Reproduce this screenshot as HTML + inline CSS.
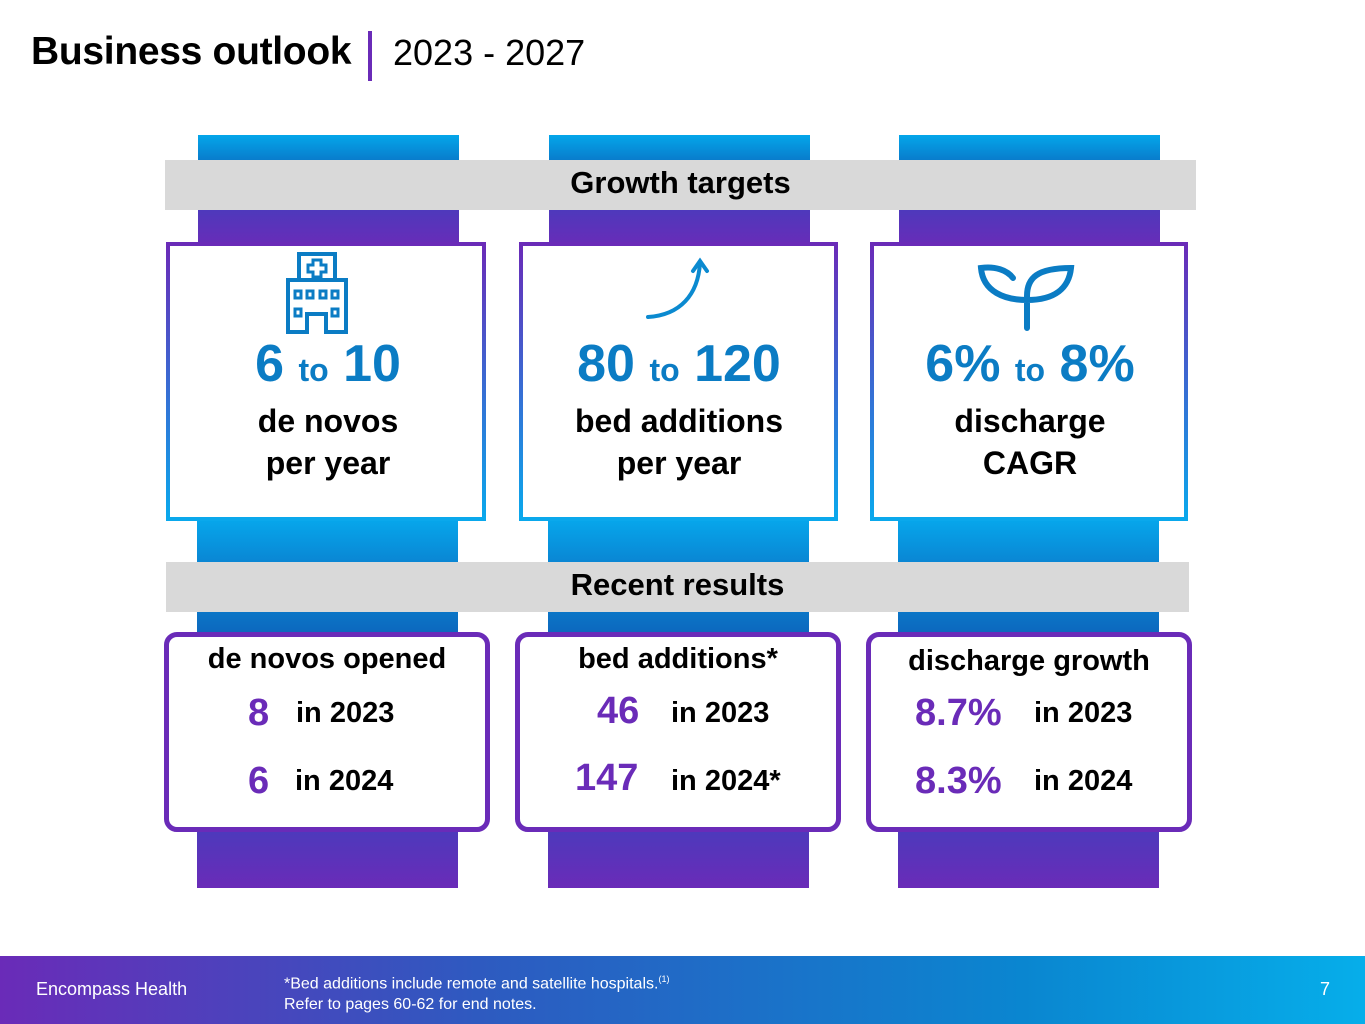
<!DOCTYPE html>
<html><head><meta charset="utf-8">
<style>
*{margin:0;padding:0;box-sizing:border-box}
body{width:1365px;height:1024px;position:relative;background:#fff;font-family:"Liberation Sans",sans-serif;overflow:hidden}
.a{position:absolute}
.t{position:absolute;white-space:nowrap;font-weight:bold;color:#000}
.c{text-align:center}
.blueTop{background:linear-gradient(#04a6ea,#0a74c6)}
.purp{background:linear-gradient(#4a3bbc,#6a2bb8)}
.blueMid{background:linear-gradient(#06aaee,#0a84d2)}
.blueLow{background:linear-gradient(#0b78c8,#0c64bc)}
.box{position:absolute;background:#fff;border:4px solid;border-image:linear-gradient(#6a2bb8,#0aa8ec) 1}
.rbox{position:absolute;background:#fff;border:5px solid #6a2bb8;border-radius:13px}
.num{color:#0b7cc4}
.pn{color:#6a2bb8}
</style></head><body>
<div class="t" style="left:31px;top:30px;font-size:39px;letter-spacing:-0.3px">Business outlook</div>
<div class="a" style="left:368px;top:31px;width:4px;height:50px;background:#6a2bb8"></div>
<div class="t" style="left:393px;top:32px;font-size:36px;font-weight:normal">2023 - 2027</div>

<div class="a blueTop" style="left:198px;top:135px;width:261px;height:30px"></div>
<div class="a blueTop" style="left:549px;top:135px;width:261px;height:30px"></div>
<div class="a blueTop" style="left:899px;top:135px;width:261px;height:30px"></div>
<div class="a purp" style="left:198px;top:205px;width:261px;height:42px"></div>
<div class="a purp" style="left:549px;top:205px;width:261px;height:42px"></div>
<div class="a purp" style="left:899px;top:205px;width:261px;height:42px"></div>
<div class="a blueMid" style="left:197px;top:515px;width:261px;height:50px"></div>
<div class="a blueMid" style="left:548px;top:515px;width:261px;height:50px"></div>
<div class="a blueMid" style="left:898px;top:515px;width:261px;height:50px"></div>
<div class="a blueLow" style="left:197px;top:608px;width:261px;height:30px"></div>
<div class="a blueLow" style="left:548px;top:608px;width:261px;height:30px"></div>
<div class="a blueLow" style="left:898px;top:608px;width:261px;height:30px"></div>
<div class="a purp" style="left:197px;top:825px;width:261px;height:63px"></div>
<div class="a purp" style="left:548px;top:825px;width:261px;height:63px"></div>
<div class="a purp" style="left:898px;top:825px;width:261px;height:63px"></div>

<div class="a" style="left:165px;top:160px;width:1031px;height:50px;background:#d9d9d9"></div>
<div class="t c" style="left:165px;top:165px;width:1031px;font-size:31px">Growth targets</div>

<div class="box" style="left:166px;top:242px;width:320px;height:279px"></div>
<div class="box" style="left:519px;top:242px;width:319px;height:279px"></div>
<div class="box" style="left:870px;top:242px;width:318px;height:279px"></div>

<svg class="a" style="left:285px;top:252px" width="84" height="84" viewBox="0 0 84 84" fill="none" stroke="#0b7cc4" stroke-width="4">
<rect x="14" y="2" width="36" height="26"/>
<path d="M28 8h8v5h5v7h-5v5h-8v-5h-5v-7h5z" stroke-width="3"/>
<path d="M3 80V28h58v52h-20V62h-19v18z"/>
<rect x="10" y="39" width="6" height="7" stroke-width="3"/><rect x="22" y="39" width="6" height="7" stroke-width="3"/><rect x="35" y="39" width="6" height="7" stroke-width="3"/><rect x="47" y="39" width="6" height="7" stroke-width="3"/>
<rect x="10" y="57" width="6" height="7" stroke-width="3"/><rect x="47" y="57" width="6" height="7" stroke-width="3"/>
</svg>
<svg class="a" style="left:640px;top:255px" width="80" height="70" viewBox="0 0 80 70" fill="none" stroke="#0b8ad0" stroke-width="4" stroke-linecap="round">
<path d="M8 62C40 60 58 40 60 8"/><path d="M53 16L60 6L67 16"/>
</svg>
<svg class="a" style="left:975px;top:258px" width="104" height="74" viewBox="0 0 104 74" fill="none" stroke="#0b7cc4" stroke-width="6" stroke-linecap="round">
<path d="M52 70V38C52 20 62 10 96 10C94 30 80 42 52 42C30 42 8 34 6 10C20 8 32 12 38 20"/>
</svg>

<div class="t c num" style="left:166px;top:334px;width:324px;font-size:52px">6 <span style="font-size:32px">to</span> 10</div>
<div class="t c" style="left:166px;top:400px;width:324px;font-size:32px;line-height:42px">de novos<br>per year</div>
<div class="t c num" style="left:517px;top:334px;width:324px;font-size:52px">80 <span style="font-size:32px">to</span> 120</div>
<div class="t c" style="left:517px;top:400px;width:324px;font-size:32px;line-height:42px">bed additions<br>per year</div>
<div class="t c num" style="left:868px;top:334px;width:324px;font-size:52px">6% <span style="font-size:32px">to</span> 8%</div>
<div class="t c" style="left:868px;top:400px;width:324px;font-size:32px;line-height:42px">discharge<br>CAGR</div>

<div class="a" style="left:166px;top:562px;width:1023px;height:50px;background:#d9d9d9"></div>
<div class="t c" style="left:166px;top:567px;width:1023px;font-size:31px">Recent results</div>

<div class="rbox" style="left:164px;top:632px;width:326px;height:200px"></div>
<div class="rbox" style="left:515px;top:632px;width:326px;height:200px"></div>
<div class="rbox" style="left:866px;top:632px;width:326px;height:200px"></div>

<div class="t c" style="left:164px;top:643px;width:326px;font-size:29px">de novos opened</div>
<div class="t pn" style="left:248px;top:692px;font-size:38px">8</div>
<div class="t" style="left:296px;top:697px;font-size:29px">in 2023</div>
<div class="t pn" style="left:248px;top:760px;font-size:38px">6</div>
<div class="t" style="left:295px;top:765px;font-size:29px">in 2024</div>

<div class="t c" style="left:515px;top:643px;width:326px;font-size:29px">bed additions*</div>
<div class="t pn" style="left:597px;top:690px;font-size:38px">46</div>
<div class="t" style="left:671px;top:697px;font-size:29px">in 2023</div>
<div class="t pn" style="left:575px;top:757px;font-size:38px">147</div>
<div class="t" style="left:671px;top:765px;font-size:29px">in 2024*</div>

<div class="t c" style="left:866px;top:645px;width:326px;font-size:29px">discharge growth</div>
<div class="t pn" style="left:915px;top:692px;font-size:38px">8.7%</div>
<div class="t" style="left:1034px;top:697px;font-size:29px">in 2023</div>
<div class="t pn" style="left:915px;top:760px;font-size:38px">8.3%</div>
<div class="t" style="left:1034px;top:765px;font-size:29px">in 2024</div>

<div class="a" style="left:0;top:956px;width:1365px;height:68px;background:linear-gradient(90deg,#6a2bb8,#2e5ac0 35%,#0a86d0 75%,#06aeea)"></div>
<div class="t" style="left:36px;top:979px;font-size:18px;font-weight:normal;color:#fff">Encompass Health</div>
<div class="t" style="left:284px;top:969px;font-size:16px;font-weight:normal;color:#fff;line-height:21px">*Bed additions include remote and satellite hospitals.<sup style="font-size:9px">(1)</sup><br>Refer to pages 60-62 for end notes.</div>
<div class="t" style="left:1320px;top:979px;font-size:18px;font-weight:normal;color:#fff">7</div>
</body></html>
